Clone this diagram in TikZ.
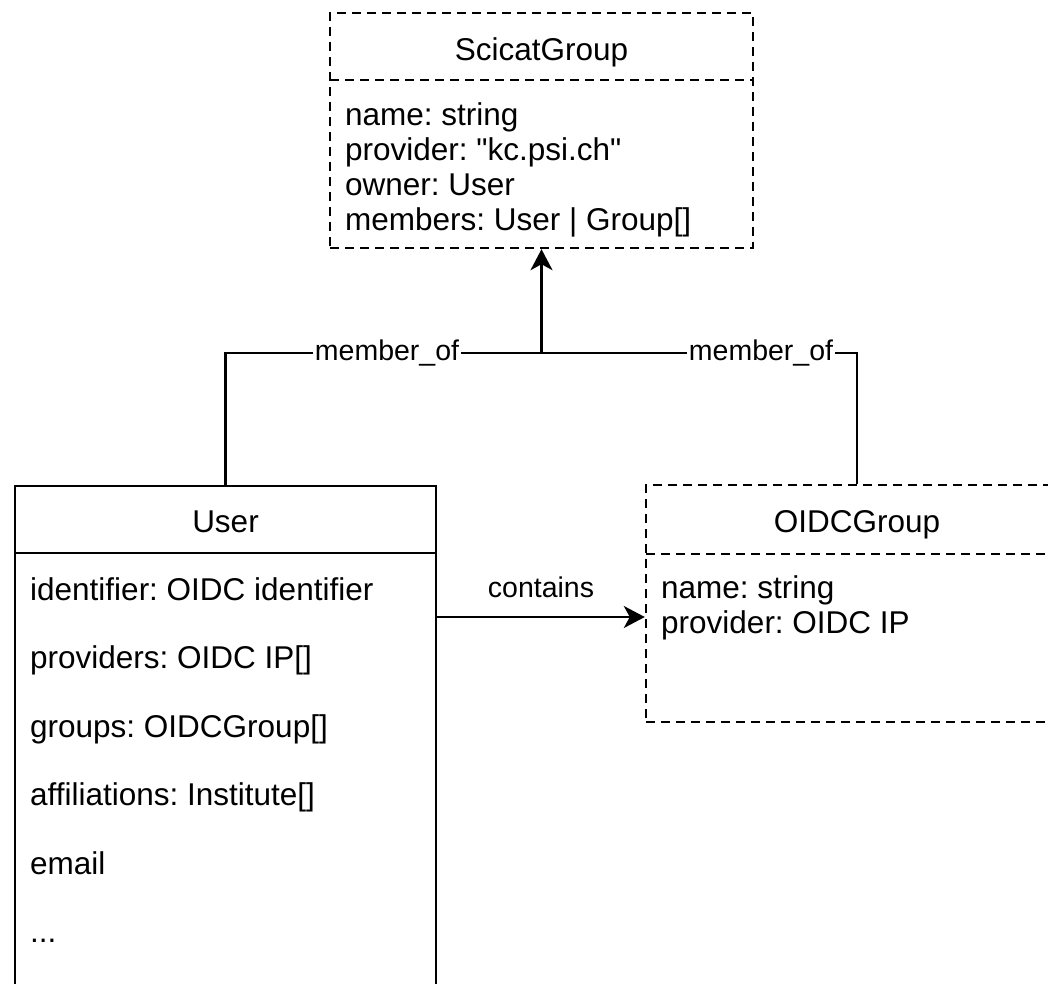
\documentclass[tikz,border=0pt]{standalone}
\usepackage{fontspec}
\setmainfont{Liberation Sans}[Ligatures=TeXOff]
\usetikzlibrary{arrows.meta}
\frenchspacing
\begin{document}
\begin{tikzpicture}[x=1pt,y=-1pt,
  box/.style={draw, line width=2.4pt, rectangle, inner sep=0pt},
  dbox/.style={box, dash pattern=on 9pt off 6pt},
  dline/.style={line width=2.4pt, dash pattern=on 9pt off 6pt},
  sline/.style={line width=2.4pt},
  ttl/.style={font=\fontsize{31.5}{36}\selectfont, inner sep=0pt, anchor=base},
  attr/.style={font=\fontsize{31.5}{36}\selectfont, inner sep=0pt, anchor=base west},
  lbl/.style={font=\fontsize{28.5}{33}\selectfont, fill=white, inner sep=1.5pt},
  conn/.style={line width=2.4pt},
  tip/.style={-{Stealth[length=21pt,width=22pt,inset=6pt]}}]
\useasboundingbox (0,0) rectangle (1048,983);
\clip (0,0) rectangle (1048,983);

% ScicatGroup class
\node[dbox, minimum width=423pt, minimum height=235pt] (sg) at (541.5,130.5) {};
\draw[dline] (330,80) -- (753,80);
\node[ttl] (sgt) at (541.5,60) {ScicatGroup};
\node[attr] (sg1) at (345,125) {name: string};
\node[attr] (sg2) at (345,160) {provider: "kc.psi.ch"};
\node[attr] (sg3) at (345,195) {owner: User};
\node[attr] (sg4) at (345,230) {members: User | Group[]};

% User class (runs past the lower edge)
\node[box, minimum width=421pt, minimum height=660pt] (user) at (225.5,816) {};
\draw[sline] (15,553) -- (436,553);
\node[ttl] (ut) at (225.5,532) {User};
\node[attr] (u1) at (30,600) {identifier: OIDC identifier};
\node[attr] (u2) at (30,668.5) {providers: OIDC IP[]};
\node[attr] (u3) at (30,737) {groups: OIDCGroup[]};
\node[attr] (u4) at (30,805.5) {affiliations: Institute[]};
\node[attr] (u5) at (30,874) {email};
\node[attr] (u6) at (30,942.5) {...};

% OIDCGroup class (runs past the right edge)
\node[dbox, minimum width=422pt, minimum height=237pt] (oidc) at (857,603.5) {};
\draw[dline] (646,554) -- (1068,554);
\node[ttl] (ot) at (857,532) {OIDCGroup};
\node[attr] (o1) at (661,598) {name: string};
\node[attr] (o2) at (661,633) {provider: OIDC IP};

% member_of connectors meeting below ScicatGroup
\coordinate (j) at (541.5,353);
\draw[conn] (user.north) |- (j);
\draw[conn] (oidc.north) |- (j);
\draw[conn,tip] (j) -- (sg.south);
\node[lbl] (m1) at (387,353) {member\_of};
\node[lbl] (m2) at (761,353) {member\_of};

% contains connector
\coordinate (ca) at (0,617);
\draw[conn,tip] (user.east |- ca) -- (oidc.west |- ca);
\node[lbl, fill=none, anchor=base] (cl) at (541,597) {contains};
\end{tikzpicture}
\end{document}
